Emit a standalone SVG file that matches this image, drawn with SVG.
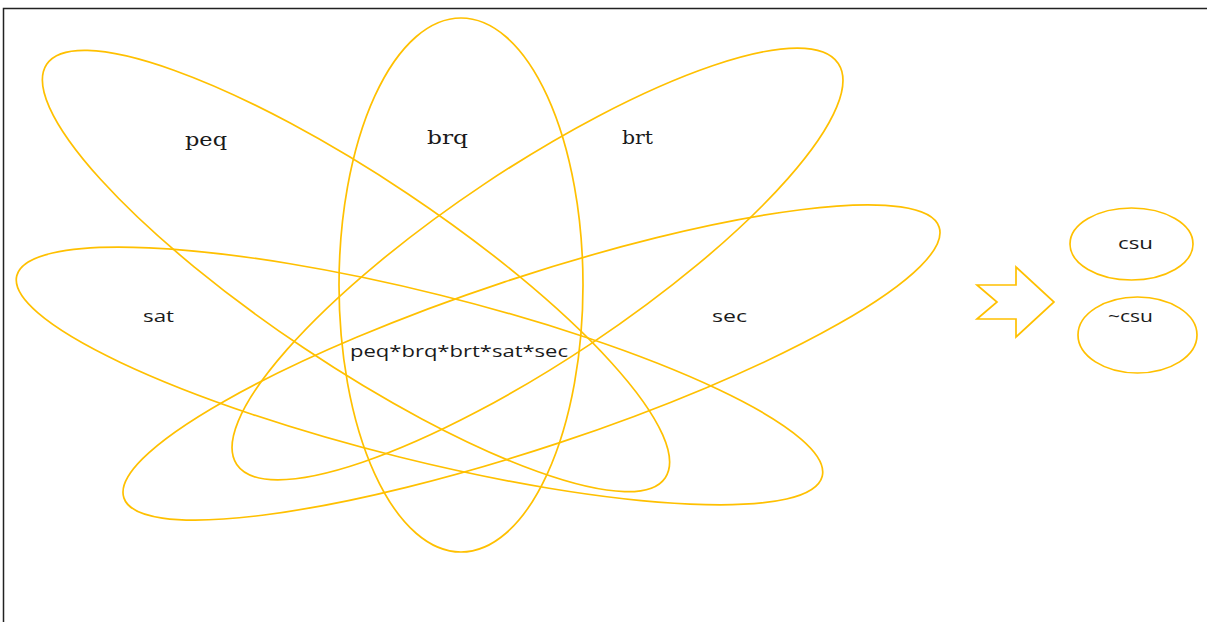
<svg xmlns="http://www.w3.org/2000/svg" width="1207" height="622" viewBox="0 0 1207 622">
  <style>
    .set { fill: none; stroke: #FFC000; stroke-width: 1.7; }
    .serif { font-family: "DejaVu Serif", "Liberation Serif", serif; font-size: 18px; fill: #1a1a1a; text-anchor: start; }
    .sans { font-family: "Open Sans", "Liberation Sans", sans-serif; font-size: 17px; fill: #1a1a1a; text-anchor: start; }
  </style>
  <rect x="3.5" y="8.5" width="1215" height="625" fill="#ffffff" stroke="#222222" stroke-width="1.5"/>
  <g id="peq">
    <ellipse class="set" cx="356" cy="271" rx="372" ry="93" transform="rotate(33.75 356 271)"/>
    <text class="serif" x="185" y="146" textLength="42" lengthAdjust="spacingAndGlyphs">peq</text>
  </g>
  <g id="brq">
    <ellipse class="set" cx="461" cy="285" rx="122" ry="267"/>
    <text class="serif" x="427" y="144" textLength="41" lengthAdjust="spacingAndGlyphs">brq</text>
  </g>
  <g id="brt">
    <ellipse class="set" cx="537.5" cy="264" rx="361.5" ry="96" transform="rotate(-33.7 537.5 264)"/>
    <text class="serif" x="622" y="144" textLength="31" lengthAdjust="spacingAndGlyphs">brt</text>
  </g>
  <g id="sat">
    <ellipse class="set" cx="419.5" cy="376" rx="415" ry="83.5" transform="rotate(13.97 419.5 376)"/>
    <text class="sans" x="143" y="322" textLength="31" lengthAdjust="spacingAndGlyphs">sat</text>
  </g>
  <g id="sec">
    <ellipse class="set" cx="531.5" cy="362.5" rx="429.5" ry="85" transform="rotate(-18.37 531.5 362.5)"/>
    <text class="sans" x="712" y="322" textLength="35" lengthAdjust="spacingAndGlyphs">sec</text>
  </g>
  <g id="intersection">
    <text class="sans" x="350" y="357" textLength="218" lengthAdjust="spacingAndGlyphs">peq*brq*brt*sat*sec</text>
  </g>
  <g id="connectors">
    <polygon class="set" points="977,285 1016,285 1016,267 1054,302 1016,337 1016,319 977,319 997,302"/>
  </g>
  <g id="csu">
    <ellipse class="set" cx="1131.5" cy="244" rx="61.5" ry="36"/>
    <text class="sans" x="1118" y="249" textLength="35" lengthAdjust="spacingAndGlyphs">csu</text>
  </g>
  <g id="not-csu">
    <ellipse class="set" cx="1137.5" cy="335" rx="59.5" ry="38"/>
    <text class="sans" x="1108" y="322" textLength="45" lengthAdjust="spacingAndGlyphs">~csu</text>
  </g>
</svg>
